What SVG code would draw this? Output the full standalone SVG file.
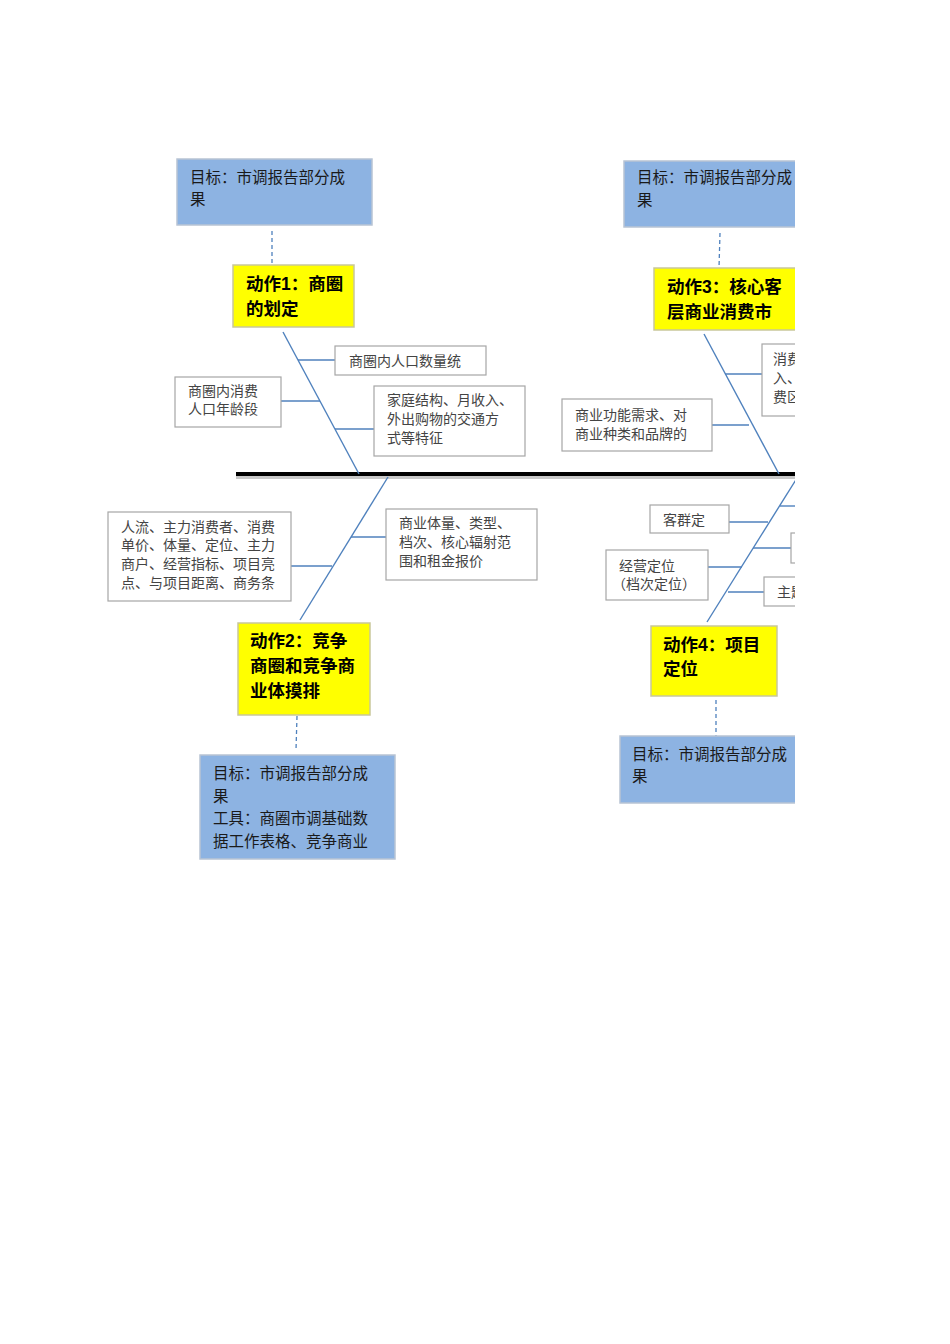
<svg xmlns="http://www.w3.org/2000/svg" width="950" height="1344" viewBox="0 0 950 1344">
<style>
.goal{fill:#8DB3E2;stroke:#b8c4d4;stroke-width:1.5}
.act{fill:#FFFF00;stroke:#c9c79a;stroke-width:1.5}
.box{fill:#fff;stroke:#a6a6a6;stroke-width:1.2}
.gt{font-family:"Liberation Sans","Noto Sans CJK SC",sans-serif;font-size:15.5px;fill:#1a1a1a}
.at{font-family:"Liberation Sans","Noto Sans CJK SC",sans-serif;font-size:17.5px;font-weight:bold;fill:#000}
.bt{font-family:"Liberation Serif","Noto Sans CJK SC",serif;font-size:14px;fill:#444}
.bone{stroke:#4F81BD;stroke-width:1.4;fill:none}
.dash{stroke:#4F81BD;stroke-width:1.3;stroke-dasharray:4 3;fill:none}
</style>
<defs>
<clipPath id="page"><rect x="0" y="0" width="795" height="1344"/></clipPath>
</defs>
<rect width="950" height="1344" fill="#fff"/>
<g clip-path="url(#page)">
<g id="connectors">
<line x1="236" y1="477.5" x2="795" y2="477.5" stroke="#c8c8c8" stroke-width="3"/>
<line x1="236" y1="474" x2="795" y2="474" stroke="#000" stroke-width="4"/>
<line class="dash" x1="272" y1="231" x2="272" y2="265"/>
<line class="dash" x1="720" y1="233" x2="719" y2="268"/>
<line class="dash" x1="297" y1="716" x2="296" y2="750"/>
<line class="dash" x1="716" y1="700" x2="716" y2="736"/>
<line class="bone" x1="283" y1="332" x2="359" y2="474"/>
<line class="bone" x1="298" y1="360" x2="335" y2="360"/>
<line class="bone" x1="281" y1="401" x2="320" y2="401"/>
<line class="bone" x1="335" y1="429" x2="374" y2="429"/>
<line class="bone" x1="704" y1="334" x2="779" y2="474"/>
<line class="bone" x1="725" y1="374" x2="762" y2="374"/>
<line class="bone" x1="712" y1="425" x2="749" y2="425"/>
<line class="bone" x1="388" y1="477" x2="300" y2="620"/>
<line class="bone" x1="291" y1="566" x2="332" y2="566"/>
<line class="bone" x1="351" y1="537" x2="386" y2="537"/>
<line class="bone" x1="797" y1="478" x2="707" y2="622"/>
<line class="bone" x1="780" y1="506" x2="795" y2="506"/>
<line class="bone" x1="729" y1="522" x2="768" y2="522"/>
<line class="bone" x1="753" y1="548" x2="795" y2="548"/>
<line class="bone" x1="708" y1="567" x2="742" y2="567"/>
<line class="bone" x1="728" y1="592" x2="764" y2="592"/>
</g>
<g id="goal1"><rect class="goal" x="177" y="159" width="195" height="66"/>
<text class="gt" x="190" y="183">目标：市调报告部分成</text><text class="gt" x="190" y="205">果</text></g>
<g id="goal3"><rect class="goal" x="624" y="161" width="175" height="66"/>
<text class="gt" x="637" y="183">目标：市调报告部分成</text><text class="gt" x="637" y="206">果</text></g>
<g id="goal2"><rect class="goal" x="200" y="755" width="195" height="104"/>
<text class="gt" x="213" y="779">目标：市调报告部分成</text><text class="gt" x="213" y="802">果</text>
<text class="gt" x="213" y="824">工具：商圈市调基础数</text><text class="gt" x="213" y="847">据工作表格、竞争商业</text></g>
<g id="goal4"><rect class="goal" x="620" y="736" width="179" height="67"/>
<text class="gt" x="632" y="760">目标：市调报告部分成</text><text class="gt" x="632" y="782">果</text></g>
<g id="act1"><rect class="act" x="233" y="265" width="121" height="62"/>
<text class="at" x="246" y="290">动作1：商圈</text><text class="at" x="246" y="315">的划定</text></g>
<g id="act3"><rect class="act" x="654" y="268" width="145" height="62"/>
<text class="at" x="667" y="293">动作3：核心客</text><text class="at" x="667" y="318">层商业消费市</text></g>
<g id="act2"><rect class="act" x="238" y="623" width="132" height="92"/>
<text class="at" x="250" y="647">动作2：竞争</text><text class="at" x="250" y="672">商圈和竞争商</text><text class="at" x="250" y="697">业体摸排</text></g>
<g id="act4"><rect class="act" x="651" y="626" width="126" height="70"/>
<text class="at" x="663" y="651">动作4：项目</text><text class="at" x="663" y="675">定位</text></g>
<g id="boxA"><rect class="box" x="335" y="346" width="151" height="29"/>
<text class="bt" x="349" y="366">商圈内人口数量统</text></g>
<g id="boxB"><rect class="box" x="175" y="377" width="106" height="50"/>
<text class="bt" x="188" y="396">商圈内消费</text><text class="bt" x="188" y="414">人口年龄段</text></g>
<g id="boxC"><rect class="box" x="374" y="386" width="151" height="70"/>
<text class="bt" x="387" y="405">家庭结构、月收入、</text><text class="bt" x="387" y="424">外出购物的交通方</text><text class="bt" x="387" y="443">式等特征</text></g>
<g id="boxD"><rect class="box" x="762" y="344" width="60" height="72"/>
<text class="bt" x="773" y="364">消费</text><text class="bt" x="773" y="383">入、</text><text class="bt" x="773" y="402">费区</text></g>
<g id="boxE"><rect class="box" x="562" y="399" width="150" height="52"/>
<text class="bt" x="575" y="420">商业功能需求、对</text><text class="bt" x="575" y="439">商业种类和品牌的</text></g>
<g id="boxF"><rect class="box" x="108" y="512" width="183" height="89"/>
<text class="bt" x="121" y="532">人流、主力消费者、消费</text><text class="bt" x="121" y="550">单价、体量、定位、主力</text>
<text class="bt" x="121" y="569">商户、经营指标、项目亮</text><text class="bt" x="121" y="588">点、与项目距离、商务条</text></g>
<g id="boxG"><rect class="box" x="386" y="509" width="151" height="71"/>
<text class="bt" x="399" y="528">商业体量、类型、</text><text class="bt" x="399" y="547">档次、核心辐射范</text><text class="bt" x="399" y="566">围和租金报价</text></g>
<g id="boxH"><rect class="box" x="650" y="505" width="79" height="28"/>
<text class="bt" x="663" y="525">客群定</text></g>
<g id="boxK"><rect class="box" x="791" y="533" width="40" height="30"/></g>
<g id="boxI"><rect class="box" x="606" y="550" width="102" height="50"/>
<text class="bt" x="619" y="571">经营定位</text><text class="bt" x="612" y="589">（档次定位）</text></g>
<g id="boxJ"><rect class="box" x="764" y="577" width="60" height="29"/>
<text class="bt" x="777" y="597">主题</text></g>
</g>
</svg>
